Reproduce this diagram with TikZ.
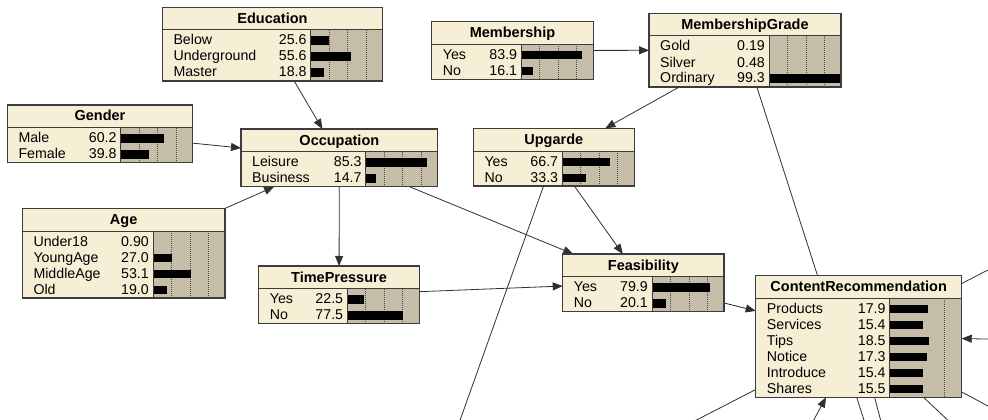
\documentclass[tikz,border=0pt]{standalone}
\usepackage{fontspec}
\setmainfont{Liberation Sans}
\usetikzlibrary{arrows.meta,backgrounds}
\definecolor{nodecream}{HTML}{F6EFD6}
\definecolor{barbg}{HTML}{C5BDA8}
\definecolor{boxline}{HTML}{3C3C3C}
\definecolor{edgeline}{HTML}{303030}
\newcommand{\statefont}{\fontsize{14.2}{16}\selectfont}
\newcommand{\titlefont}{\fontsize{14.5}{16}\selectfont\bfseries}
\tikzset{
  bnframe/.style={draw=boxline, line width=1.3pt, inner sep=0pt, outer sep=0pt},
  bnsep/.style={draw=boxline, line width=1pt},
  gridline/.style={draw=black!70, line width=0.6pt, dash pattern=on 1pt off 1pt},
  edge/.style={draw=edgeline, line width=0.8pt},
  arrowedge/.style={edge, -{Triangle[length=10pt,width=8pt]}},
}
% #1 name, #2 left, #3 top, #4 right, #5 rows, #6 title, #7 px per percent, #8 rows, #9 grid
\newcommand{\bnnode}[9]{%
  \pgfmathsetmacro{\bnL}{#2}%
  \pgfmathsetmacro{\bnT}{#3}%
  \pgfmathsetmacro{\bnR}{#4}%
  \pgfmathsetmacro{\bnB}{#3+25.7+16*#5}%
  \pgfmathsetmacro{\bnS}{#3+22.7}%
  \pgfmathsetmacro{\bnX}{#4-72}%
  \pgfmathsetmacro{\bnW}{#4-#2}%
  \pgfmathsetmacro{\bnH}{25.7+16*#5}%
  \fill[nodecream] (\bnL,\bnT) rectangle (\bnR,\bnB);
  \fill[barbg] (\bnX,\bnS) rectangle (\bnR,\bnB);
  \foreach \g in {#9} {\draw[gridline] (\bnX+\g,\bnS) -- (\bnX+\g,\bnB);}
  \node[font=\titlefont, anchor=base, inner sep=0pt] at ({(\bnL+\bnR)/2},\bnT+16) {#6};
  \foreach \lab/\val [count=\rowi from 0] in {#8} {
    \pgfmathsetmacro{\bb}{\bnT+37.7+16*\rowi}
    \pgfmathsetmacro{\bw}{\val*#7}
    \node[font=\statefont, anchor=base west, inner sep=0pt] at (\bnL+11,\bb) {\lab};
    \node[font=\statefont, anchor=base east, inner sep=0pt] at (\bnX-4,\bb) {\val};
    \ifdim\bw pt>0.8pt \fill[black] (\bnX,\bb-8.5) rectangle (\bnX+\bw,\bb); \fi
  }
  \draw[bnsep] (\bnL,\bnS) -- (\bnR,\bnS);
  \draw[bnsep] (\bnX,\bnS) -- (\bnX,\bnB);
  \node[bnframe, anchor=north west, minimum width=\bnW pt, minimum height=\bnH pt] (#1) at (\bnL,\bnT) {};
}
\begin{document}
\begin{tikzpicture}[x=1pt,y=-1pt]
\useasboundingbox (0,0) rectangle (988,420);

\bnnode{edu}{162.3}{7.3}{382.7}{3}{Education}{0.72}{Below/25.6, Underground/55.6, Master/18.8}{18.3,36.8,55.2}
\bnnode{gen}{7.3}{105}{192.7}{2}{Gender}{0.72}{Male/60.2, Female/39.8}{18.3,36.8,55.2}
\bnnode{occ}{241}{129}{437.7}{2}{Occupation}{0.72}{Leisure/85.3, Business/14.7}{18.3,36.8,55.2}
\bnnode{age}{22.3}{208.3}{225}{4}{Age}{0.72}{Under18/0.90, YoungAge/27.0, MiddleAge/53.1, Old/19.0}{18.3,36.8,55.2}
\bnnode{tp}{258.7}{266}{419.3}{2}{TimePressure}{0.72}{Yes/22.5, No/77.5}{18.3,36.8,55.2}
\bnnode{mem}{431.7}{21.7}{593.3}{2}{Membership}{0.72}{Yes/83.9, No/16.1}{18.3,36.8,55.2}
\bnnode{mg}{649}{13.3}{841}{3}{MembershipGrade}{0.72}{Gold/0.19, Silver/0.48, Ordinary/99.3}{18.3,36.8,55.2}
\bnnode{upg}{473.3}{128.3}{634.3}{2}{Upgarde}{0.72}{Yes/66.7, No/33.3}{18.3,36.8,55.2}
\bnnode{fea}{562.7}{254}{724}{2}{Feasibility}{0.72}{Yes/79.9, No/20.1}{18.3,36.8,55.2}
\bnnode{cr}{755.7}{275.7}{961.7}{6}{ContentRecommendation}{2.15}{Products/17.9, Services/15.4, Tips/18.5, Notice/17.3, Introduce/15.4, Shares/15.5}{54.3}

\coordinate (outA) at (453,440);
\coordinate (outB) at (870.4,440);
\coordinate (outC) at (1010,258.6);
\coordinate (inD) at (1010,339.5);
\coordinate (outE) at (670,433.7);
\coordinate (inF) at (803,440);
\coordinate (outG) at (885.8,440);
\coordinate (outH) at (969,440);
\coordinate (outI) at (1010,417.9);

\begin{scope}[on background layer]
  \fill[white] (0,0) rectangle (988,420);
  \clip (0,0) rectangle (988,420);
  \draw[arrowedge] (edu) -- (occ);
  \draw[arrowedge] (gen) -- (occ);
  \draw[arrowedge] (age) -- (occ);
  \draw[arrowedge] (occ) -- (tp);
  \draw[arrowedge] (occ) -- (fea);
  \draw[arrowedge] (tp) -- (fea);
  \draw[arrowedge] (upg) -- (fea);
  \draw[arrowedge] (mem) -- (mg);
  \draw[arrowedge] (mg) -- (upg);
  \draw[arrowedge] (fea) -- (cr);
  \draw[edge] (upg) -- (outA);
  \draw[edge] (mg) -- (outB);
  \draw[edge] (cr) -- (outC);
  \draw[arrowedge] (inD) -- (cr);
  \draw[edge] (cr) -- (outE);
  \draw[arrowedge] (inF) -- (cr);
  \draw[edge] (cr) -- (outG);
  \draw[edge] (cr) -- (outH);
  \draw[edge] (cr) -- (outI);
\end{scope}
\end{tikzpicture}
\end{document}
